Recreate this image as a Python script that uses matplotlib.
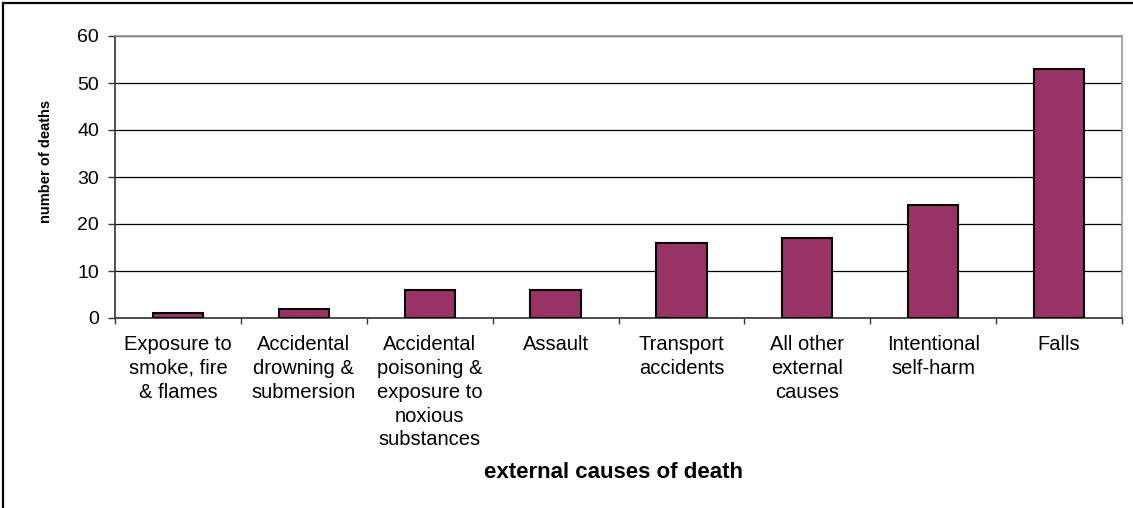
import matplotlib.pyplot as plt
from matplotlib.lines import Line2D
import numpy as np

categories = ["Exposure to\nsmoke, fire\n& flames",
              "Accidental\ndrowning &\nsubmersion",
              "Accidental\npoisoning &\nexposure to\nnoxious\nsubstances",
              "Assault",
              "Transport\naccidents",
              "All other\nexternal\ncauses",
              "Intentional\nself-harm",
              "Falls"]
deaths = [1, 2, 6, 6, 16, 17, 24, 53]
yticks = [0, 10, 20, 30, 40, 50, 60]

plt.rcParams['font.family'] = ['Liberation Sans', 'DejaVu Sans']

W, H = 1133, 508
fig = plt.figure(figsize=(W / 100, H / 100), dpi=100)
ax = fig.add_axes([115 / W, (H - 318) / H, (1122 - 115) / W, (318 - 36) / H])

x = np.arange(len(categories))
ax.bar(x, deaths, width=0.4, color="#993366", edgecolor="black", linewidth=1.5, zorder=3)

ax.set_xlim(-0.5, len(categories) - 0.5)
ax.set_ylim(0, 60)
ax.set_yticks(yticks)
ax.yaxis.grid(True, color="black", linewidth=0.9, zorder=0)

# labels at centres, tick marks between categories
ax.set_xticks(x)
ax.set_xticklabels(categories, fontsize=14.5, linespacing=1.33, va="top")
ax.tick_params(axis="x", length=0, pad=12)
ax.set_xticks(np.arange(-0.5, len(categories)), minor=True)
ax.tick_params(axis="x", which="minor", length=4, width=1, color="#333333")
ax.tick_params(axis="y", length=5, width=1, color="#333333", labelsize=14, pad=6.5)

for s in ["left", "bottom"]:
    ax.spines[s].set_color("#333333")
    ax.spines[s].set_linewidth(1.2)
for s in ["top", "right"]:
    ax.spines[s].set_color("#999999")
    ax.spines[s].set_linewidth(1.2)

fig.text(613 / W, 1 - 473 / H, "external causes of death", fontsize=16,
         fontweight="bold", ha="center", va="center")
fig.text(46 / W, 1 - 161 / H, "number of deaths", fontsize=10.5,
         fontweight="bold", ha="center", va="center", rotation=90)

# outer frame (top and left edges visible)
fig.add_artist(Line2D([3 / W, 1], [1 - 3 / H, 1 - 3 / H], color="black", linewidth=1.6))
fig.add_artist(Line2D([3 / W, 3 / W], [0, 1 - 3 / H], color="black", linewidth=1.6))

fig.savefig("out.png", dpi=100)
